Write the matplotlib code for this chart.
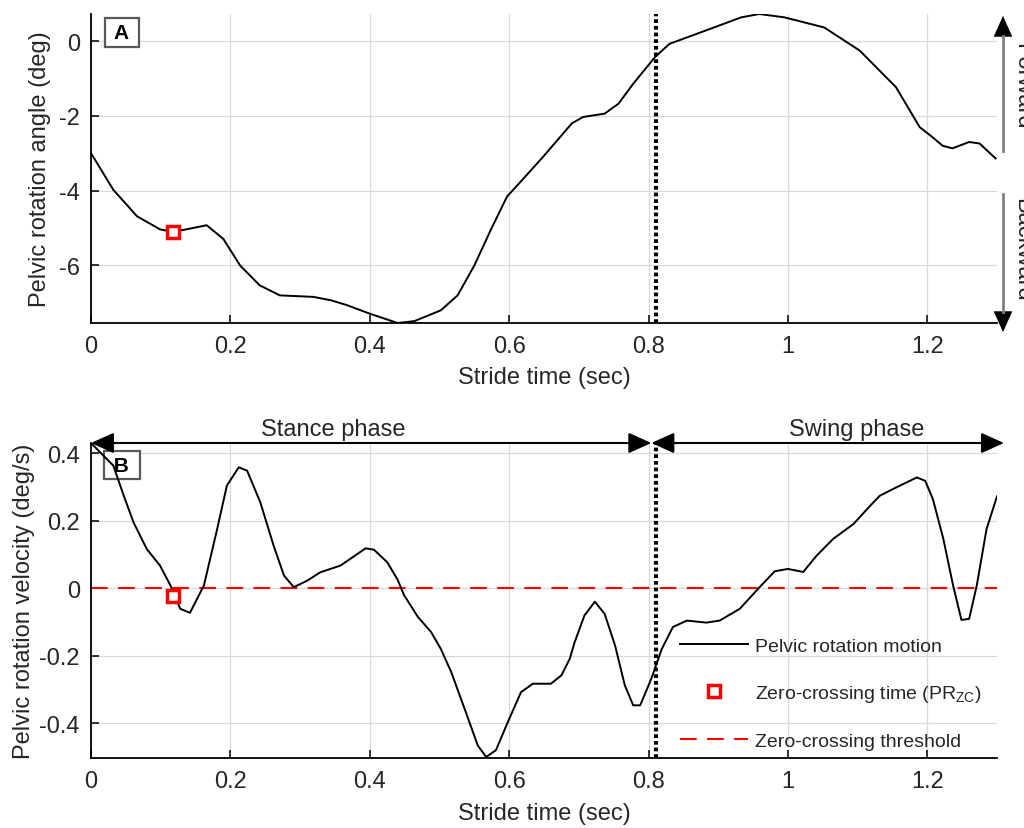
import matplotlib
matplotlib.use("Agg")
import matplotlib.pyplot as plt
from matplotlib.lines import Line2D

plt.rcParams['font.family'] = ['Liberation Sans', 'DejaVu Sans']
plt.rcParams['axes.unicode_minus'] = False
plt.rcParams['mathtext.fontset'] = 'custom'
plt.rcParams['mathtext.rm'] = 'Liberation Sans'

# Panel A: pelvic rotation angle over the stride
angle_time = [0.0, 0.032, 0.066, 0.099, 0.117, 0.137, 0.166, 0.19, 0.214, 0.242,
              0.271, 0.319, 0.344, 0.367, 0.4, 0.44, 0.464, 0.502, 0.526, 0.55,
              0.574, 0.597, 0.622, 0.649, 0.69, 0.706, 0.737, 0.757, 0.778, 0.809,
              0.83, 0.881, 0.933, 0.959, 0.995, 1.052, 1.103, 1.155, 1.189, 1.206,
              1.222, 1.236, 1.26, 1.275, 1.298]
angle_deg = [-3.0, -3.98, -4.69, -5.04, -5.11, -5.04, -4.93, -5.3, -6.01, -6.54,
             -6.81, -6.85, -6.94, -7.07, -7.3, -7.55, -7.5, -7.21, -6.81, -6.01,
             -5.04, -4.16, -3.65, -3.09, -2.2, -2.03, -1.94, -1.67, -1.14, -0.43,
             -0.07, 0.28, 0.64, 0.73, 0.64, 0.37, -0.25, -1.23, -2.3, -2.55,
             -2.8, -2.87, -2.7, -2.74, -3.14]

# Panel B: pelvic rotation velocity
velocity_time = [0.0, 0.032, 0.047, 0.061, 0.08, 0.099, 0.114, 0.128, 0.142, 0.162,
                 0.181, 0.195, 0.212, 0.224, 0.243, 0.262, 0.277, 0.291, 0.31, 0.329,
                 0.358, 0.394, 0.406, 0.425, 0.44, 0.449, 0.469, 0.488, 0.502, 0.517,
                 0.536, 0.555, 0.567, 0.581, 0.598, 0.617, 0.634, 0.66, 0.675, 0.687,
                 0.694, 0.708, 0.723, 0.737, 0.752, 0.766, 0.778, 0.788, 0.804, 0.819,
                 0.835, 0.855, 0.883, 0.902, 0.931, 0.958, 0.981, 1.0, 1.022, 1.041,
                 1.065, 1.094, 1.118, 1.132, 1.156, 1.185, 1.197, 1.208, 1.223, 1.237,
                 1.249, 1.26, 1.271, 1.285, 1.3]
velocity_deg_s = [0.43, 0.363, 0.274, 0.195, 0.116, 0.067, 0.008, -0.061, -0.073, 0.008,
                  0.175, 0.304, 0.358, 0.348, 0.254, 0.126, 0.037, 0.003, 0.022, 0.047,
                  0.067, 0.118, 0.114, 0.077, 0.025, -0.02, -0.085, -0.13, -0.18, -0.249,
                  -0.357, -0.466, -0.5, -0.48, -0.397, -0.308, -0.283, -0.283, -0.258, -0.209,
                  -0.16, -0.081, -0.04, -0.076, -0.17, -0.288, -0.347, -0.347, -0.268, -0.18,
                  -0.115, -0.096, -0.102, -0.096, -0.061, 0.0, 0.05, 0.057, 0.048, 0.096,
                  0.146, 0.19, 0.244, 0.274, 0.299, 0.328, 0.318, 0.264, 0.146, 0.008,
                  -0.094, -0.091, 0.008, 0.175, 0.272]

zc_time = 0.117
zc_angle = -5.11
zc_velocity = -0.022
toe_off_time = 0.81
threshold = 0.0

xtick_values = [0, 0.2, 0.4, 0.6, 0.8, 1.0, 1.2]
xtick_labels = ["0", "0.2", "0.4", "0.6", "0.8", "1", "1.2"]
angle_ticks = [-6, -4, -2, 0]
angle_tick_labels = ["-6", "-4", "-2", "0"]
velocity_ticks = [-0.4, -0.2, 0, 0.2, 0.4]
velocity_tick_labels = ["-0.4", "-0.2", "0", "0.2", "0.4"]

W, H = 1024, 829
TXT = '#262626'
fig = plt.figure(figsize=(W / 100, H / 100), dpi=100)


def axes_px(left, top, right, bottom):
    return fig.add_axes([left / W, 1 - bottom / H, (right - left) / W, (bottom - top) / H])


def style_axes(ax):
    ax.grid(True, color='#d9d9d9', lw=0.9)
    ax.set_axisbelow(True)
    for side in ['top', 'right']:
        ax.spines[side].set_visible(False)
    for side in ['left', 'bottom']:
        ax.spines[side].set_linewidth(1.3)
    ax.tick_params(direction='in', length=6, width=1.1, labelsize=17, labelcolor=TXT)
    ax.tick_params(axis='x', pad=9)
    ax.tick_params(axis='y', pad=8)
    ax.set_xlim(0, 1.3)
    ax.set_xticks(xtick_values, xtick_labels)
    ax.set_xlabel('Stride time (sec)', fontsize=17, color=TXT)
    ax.xaxis.set_label_coords(0.5, -0.14)


ax1 = axes_px(91, 15, 997, 324)
ax2 = axes_px(91, 444, 997, 759)

# ---- panel A
style_axes(ax1)
ax1.plot(angle_time, angle_deg, color='black', lw=1.4)
ax1.plot([zc_time], [zc_angle], ls='none', marker='s', ms=8, mfc='white', mec='red', mew=2.5)
ax1.axvline(toe_off_time, color='black', lw=3, linestyle=(0, (0.9, 0.7)))
ax1.set_ylim(-7.55, 0.73)
ax1.set_yticks(angle_ticks, angle_tick_labels)
ax1.set_ylabel('Pelvic rotation angle (deg)', fontsize=17, color=TXT)
ax1.yaxis.set_label_coords(-0.044, 0.5)
ax1.text(0.034, 0.94, ' A ', transform=ax1.transAxes, ha='center', va='center',
         fontsize=15, fontweight='bold',
         bbox=dict(boxstyle='square,pad=0.22', fc='white', ec='0.35', lw=1.6))

# forward / backward indicators at the right edge
head = dict(arrowstyle='-|>,head_length=1.0,head_width=0.45', color='black', lw=0.5,
            mutation_scale=14, shrinkA=0, shrinkB=0)
x_ind = 1003
for y_start, y_base, y_tip in [(152, 37, 17), (195, 313, 333)]:
    fig.add_artist(Line2D([x_ind / W] * 2, [1 - y_start / H, 1 - y_base / H],
                          color='0.5', lw=2, transform=fig.transFigure))
    ax1.annotate('', xy=(x_ind, H - y_tip), xytext=(x_ind, H - y_base),
                 xycoords='figure pixels', textcoords='figure pixels',
                 arrowprops=head, annotation_clip=False)
fig.text(1011 / W, 1 - 86 / H, 'Forward', rotation=270, ha='left', va='center',
         fontsize=17, color=TXT)
fig.text(1011 / W, 1 - 250 / H, 'Backward', rotation=270, ha='left', va='center',
         fontsize=17, color=TXT)

# ---- panel B
style_axes(ax2)
ax2.axhline(threshold, color='red', lw=1.5, dashes=(8, 5), zorder=2)
ax2.plot(velocity_time, velocity_deg_s, color='black', lw=1.4, zorder=3)
ax2.plot([zc_time], [zc_velocity], ls='none', marker='s', ms=8, mfc='white', mec='red',
         mew=2.5, zorder=4)
ax2.axvline(toe_off_time, color='black', lw=3, linestyle=(0, (0.9, 0.7)), zorder=3)
ax2.set_ylim(-0.503, 0.43)
ax2.set_yticks(velocity_ticks, velocity_tick_labels)
ax2.set_ylabel('Pelvic rotation velocity (deg/s)', fontsize=17, color=TXT)
ax2.yaxis.set_label_coords(-0.062, 0.5)
ax2.text(0.034, 0.93, ' B ', transform=ax2.transAxes, ha='center', va='center',
         fontsize=15, fontweight='bold', zorder=2,
         bbox=dict(boxstyle='square,pad=0.22', fc='white', ec='0.35', lw=1.6))

# stance / swing phase arrows along the top of panel B
phase_arrow = dict(arrowstyle='<|-|>,head_length=1.0,head_width=0.45', color='black',
                   lw=1.5, mutation_scale=14, shrinkA=0, shrinkB=0)
split = toe_off_time - 0.006
ax2.annotate('', xy=(split, 0.43), xytext=(0, 0.43), arrowprops=phase_arrow,
             annotation_clip=False)
ax2.annotate('', xy=(1.31, 0.43), xytext=(split, 0.43), arrowprops=phase_arrow,
             annotation_clip=False)
ax2.text(0.347, 0.471, 'Stance phase', ha='center', va='center', fontsize=17,
         color=TXT, clip_on=False)
ax2.text(1.098, 0.471, 'Swing phase', ha='center', va='center', fontsize=17,
         color=TXT, clip_on=False)

handles = [
    Line2D([], [], color='black', lw=1.4),
    Line2D([], [], ls='none', marker='s', ms=8, mfc='white', mec='red', mew=2.5),
    Line2D([], [], color='red', lw=1.5, dashes=(8, 5)),
]
labels = ['Pelvic rotation motion', 'Zero-crossing time (PR$_{\\mathrm{ZC}}$)',
          'Zero-crossing threshold']
leg = ax2.legend(handles, labels, loc='upper left', bbox_to_anchor=(680 / W, 1 - 638 / H),
                 bbox_transform=fig.transFigure, frameon=False, fontsize=14,
                 handlelength=3.5, handletextpad=0.35, labelspacing=1.45,
                 borderpad=0, borderaxespad=0)
for t in leg.get_texts():
    t.set_color(TXT)

fig.savefig('out.png', dpi=100)
